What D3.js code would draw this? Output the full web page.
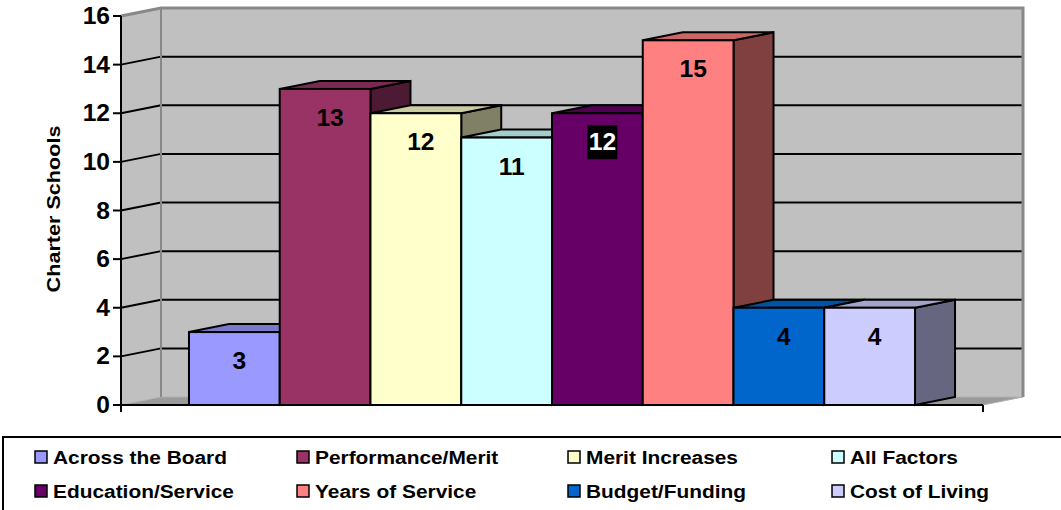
<!DOCTYPE html>
<html>
<head>
<meta charset="utf-8">
<script src="https://cdn.jsdelivr.net/npm/d3@7/dist/d3.min.js"></script>
<style>
  html, body { margin: 0; padding: 0; background: #fff; }
  svg { display: block; }
  text { font-family: "Liberation Sans", Arial, Helvetica, sans-serif; font-weight: bold; }
</style>
</head>
<body>
<svg id="chart" width="1061" height="510"></svg>
<script>
// Pay-increase basis reported by charter schools
const seriesNames = ["Across the Board", "Performance/Merit", "Merit Increases", "All Factors",
                     "Education/Service", "Years of Service", "Budget/Funding", "Cost of Living"];
const seriesValues = [3, 13, 12, 11, 12, 15, 4, 4];
const seriesColors = ["#9999FF", "#993366", "#FFFFCC", "#CCFFFF",
                      "#660066", "#FF8080", "#0066CC", "#CCCCFF"];
const yTicks = [0, 2, 4, 6, 8, 10, 12, 14, 16];
const yTitle = "Charter Schools";

const svg = d3.select("#chart");

// plot frame (front plane) and 3-D depth offset
const plotLeft = 121, plotRight = 983, plotBottom = 405, plotTop = 16;
const DX = 40, DY = -8;

const y = d3.scaleLinear().domain([0, 16]).range([plotBottom, plotTop]);
const x = d3.scaleBand().domain(seriesNames).range([plotLeft, plotRight])
  .paddingInner(0).paddingOuter(0.749);

const shade = (c, k) => { const r = d3.rgb(c); return d3.rgb(r.r * k, r.g * k, r.b * k).formatHex(); };
const poly = pts => pts.map(p => p.join(",")).join(" ");

// ---- walls ----
const walls = svg.append("g");
// left side wall
walls.append("polygon")
  .attr("points", poly([[plotLeft, y(16)], [plotLeft + DX, y(16) + DY], [plotLeft + DX, y(0) + DY], [plotLeft, y(0)]]))
  .attr("fill", "#C0C0C0");
// back wall
walls.append("rect")
  .attr("x", plotLeft + DX).attr("y", y(16) + DY)
  .attr("width", plotRight - plotLeft).attr("height", y(0) - y(16))
  .attr("fill", "#C0C0C0");
// floor
walls.append("polygon")
  .attr("points", poly([[plotLeft, y(0)], [plotLeft + DX, y(0) + DY], [plotRight + DX, y(0) + DY], [plotRight, y(0)]]))
  .attr("fill", "#9A9A9A").attr("stroke", "#B0B0B0").attr("stroke-width", 1);

// gridlines: slanted on the side wall, flat across the back wall
const grid = yTicks.filter(v => v > 0 && v < 16);
walls.selectAll("polyline.grid").data(grid).join("polyline")
  .attr("class", "grid")
  .attr("points", v => poly([[plotLeft, y(v)], [plotLeft + DX, y(v) + DY], [plotRight + DX, y(v) + DY]]))
  .attr("fill", "none").attr("stroke", "#000").attr("stroke-width", 2);

// wall edges
walls.append("polyline")
  .attr("points", poly([[plotLeft, y(16)], [plotLeft + DX, y(16) + DY], [plotRight + DX, y(16) + DY], [plotRight + DX, y(0) + DY]]))
  .attr("fill", "none").attr("stroke", "#888").attr("stroke-width", 3);
walls.append("line")
  .attr("x1", plotLeft + DX).attr("x2", plotLeft + DX)
  .attr("y1", y(16) + DY).attr("y2", y(0) + DY)
  .attr("stroke", "#888").attr("stroke-width", 2);

// ---- bars (drawn left to right so later bars overlap earlier side faces) ----
const bars = svg.append("g").attr("stroke", "#000").attr("stroke-width", 2).attr("stroke-linejoin", "miter");
seriesNames.forEach((name, i) => {
  const v = seriesValues[i], c = seriesColors[i];
  const x0 = x(name), x1 = x0 + x.bandwidth(), yt = y(v), yb = y(0);
  const g = bars.append("g");
  // right side face
  g.append("polygon")
    .attr("points", poly([[x1, yt], [x1 + DX, yt + DY], [x1 + DX, yb + DY], [x1, yb]]))
    .attr("fill", shade(c, 0.5));
  // top face
  g.append("polygon")
    .attr("points", poly([[x0, yt], [x0 + DX, yt + DY], [x1 + DX, yt + DY], [x1, yt]]))
    .attr("fill", shade(c, 0.8));
  // front face
  g.append("rect")
    .attr("x", x0).attr("y", yt).attr("width", x1 - x0).attr("height", yb - yt)
    .attr("fill", c);
});

// ---- value labels ----
const labels = svg.append("g");
seriesNames.forEach((name, i) => {
  const v = seriesValues[i];
  const cx = x(name) + x.bandwidth() / 2 + 5, cy = y(v) + 29;
  const dark = d3.hsl(seriesColors[i]).l < 0.3;
  if (dark) {
    labels.append("rect")
      .attr("x", cx - 15).attr("y", cy - 17).attr("width", 30).attr("height", 34)
      .attr("fill", "#000");
  }
  labels.append("text")
    .attr("transform", `translate(${cx},${cy + 8}) scale(1.07,1)`)
    .attr("text-anchor", "middle")
    .attr("font-size", 23)
    .attr("fill", dark ? "#fff" : "#000")
    .text(v);
});

// ---- value axis ----
const axis = svg.append("g");
axis.append("line")
  .attr("x1", plotLeft).attr("x2", plotLeft).attr("y1", y(16)).attr("y2", y(0) + 7)
  .attr("stroke", "#000").attr("stroke-width", 2);
axis.append("line")
  .attr("x1", plotLeft).attr("x2", plotRight).attr("y1", y(0)).attr("y2", y(0))
  .attr("stroke", "#000").attr("stroke-width", 2);
axis.append("line")
  .attr("x1", plotRight).attr("x2", plotRight).attr("y1", y(0)).attr("y2", y(0) + 7)
  .attr("stroke", "#000").attr("stroke-width", 2);
axis.selectAll("line.tick").data(yTicks).join("line")
  .attr("class", "tick")
  .attr("x1", plotLeft - 8).attr("x2", plotLeft).attr("y1", d => y(d)).attr("y2", d => y(d))
  .attr("stroke", "#000").attr("stroke-width", 2);
axis.selectAll("text.tick").data(yTicks).join("text")
  .attr("class", "tick")
  .attr("transform", d => `translate(110,${y(d) + 8}) scale(1.07,1)`)
  .attr("text-anchor", "end")
  .attr("font-size", 23)
  .text(d => d);

svg.append("text")
  .attr("transform", "translate(60,209) rotate(-90) scale(1.2,1)")
  .attr("text-anchor", "middle")
  .attr("font-size", 18)
  .text(yTitle);

// ---- legend ----
const legend = svg.append("g");
legend.append("rect")
  .attr("x", 3).attr("y", 437).attr("width", 1070).attr("height", 90)
  .attr("fill", "#fff").attr("stroke", "#000").attr("stroke-width", 2);
const colX = [35, 297, 568, 832];
const rowBase = [464, 498];
const items = legend.selectAll("g.item").data(seriesNames).join("g")
  .attr("class", "item")
  .attr("transform", (d, i) => `translate(${colX[i % 4]},${rowBase[Math.floor(i / 4)]})`);
items.append("rect")
  .attr("x", 0).attr("y", -13).attr("width", 12).attr("height", 12)
  .attr("fill", (d, i) => seriesColors[i])
  .attr("stroke", "#000").attr("stroke-width", 1.5);
items.append("text")
  .attr("transform", "translate(18,0) scale(1.16,1)")
  .attr("font-size", 18)
  .text(d => d);
</script>
</body>
</html>
